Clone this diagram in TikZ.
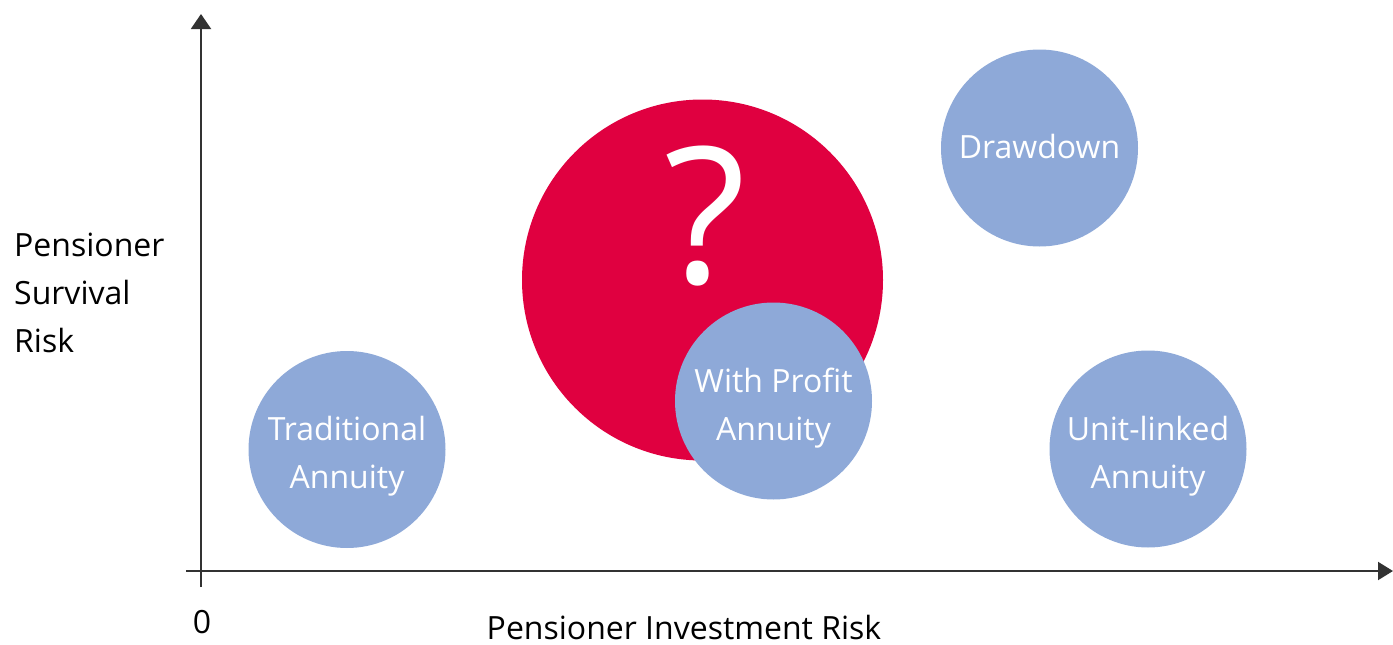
\documentclass[tikz,border=0pt]{standalone}
\usepackage{fontspec}
\setmainfont{Open Sans}
\usetikzlibrary{arrows.meta}
\definecolor{riskred}{RGB}{224,0,64}
\definecolor{prodblue}{RGB}{142,169,216}
\definecolor{axisgray}{RGB}{50,50,50}
\begin{document}
\begin{tikzpicture}[x=1pt,y=-1pt,
  axisline/.style={draw=axisgray,line width=2pt},
  prodcircle/.style={circle,fill=prodblue,minimum size=197pt,inner sep=0pt},
  prodtext/.style={text=white,anchor=base,inner sep=0pt,font=\fontsize{32}{38}\selectfont},
  plaintext/.style={text=black,anchor=base west,inner sep=0pt,font=\fontsize{32}{38}\selectfont}]
\useasboundingbox (0,0) rectangle (1393,645);
% axes
\coordinate (yfoot) at (201,587);
\coordinate (ytip) at (201,14);
\coordinate (xfoot) at (186,571);
\coordinate (xtip) at (1393,571);
\draw[axisline,-{Triangle[width=20pt,length=15pt]}] (yfoot) -- (ytip);
\draw[axisline,-{Triangle[width=18pt,length=15pt]}] (xfoot) -- (xtip);
% red bubble with question mark
\node[circle,fill=riskred,minimum size=361pt,inner sep=0pt] (unknown) at (702.5,280) {};
\node[text=white,anchor=base,inner sep=0pt,font=\fontsize{190}{192}\selectfont] (qmark) at (705,283) {?};
% product bubbles (positive yshift moves a line up)
\node[prodcircle] (draw) at (1039.5,148) {};
\node[prodtext] (drawt) at ([yshift=-10pt]draw.center) {Drawdown};
\node[prodcircle] (trad) at (347,449.5) {};
\node[prodtext] (trad1) at ([yshift=9pt]trad.center) {Traditional};
\node[prodtext] (trad2) at ([yshift=-39pt]trad.center) {Annuity};
\node[prodcircle] (wpa) at (773.5,401) {};
\node[prodtext] (wpa1) at ([yshift=9pt]wpa.center) {With Profit};
\node[prodtext] (wpa2) at ([yshift=-39pt]wpa.center) {Annuity};
\node[prodcircle] (unit) at (1148,449) {};
\node[prodtext] (unit1) at ([yshift=9pt]unit.center) {Unit-linked};
\node[prodtext] (unit2) at ([yshift=-39pt]unit.center) {Annuity};
% axis labels
\node[plaintext,anchor=base] (zero) at (202,633) {0};
\node[plaintext,anchor=base] (xlabel) at (684,639) {Pensioner Investment Risk};
\node[plaintext] (ylab1) at (14,256) {Pensioner};
\node[plaintext] (ylab2) at (14,304) {Survival};
\node[plaintext] (ylab3) at (14,352) {Risk};
\end{tikzpicture}
\end{document}
